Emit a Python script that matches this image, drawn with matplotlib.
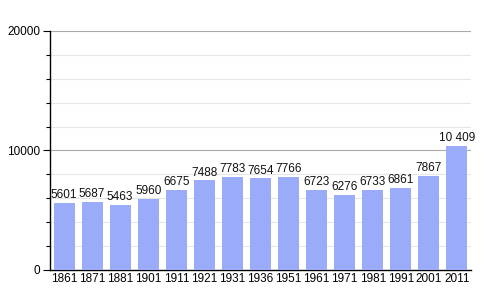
import matplotlib
matplotlib.use("Agg")
import matplotlib.pyplot as plt
import numpy as np

years = ["1861", "1871", "1881", "1901", "1911", "1921", "1931", "1936",
         "1951", "1961", "1971", "1981", "1991", "2001", "2011"]
population = [5601, 5687, 5463, 5960, 6675, 7488, 7783, 7654,
              7766, 6723, 6276, 6733, 6861, 7867, 10409]
value_labels = ["5601", "5687", "5463", "5960", "6675", "7488", "7783", "7654",
                "7766", "6723", "6276", "6733", "6861", "7867", "10 409"]

plt.rcParams['font.family'] = ['Liberation Sans', 'DejaVu Sans']

fig = plt.figure(figsize=(5, 3), dpi=100)
ax = fig.add_axes([0.1, 0.1, 0.842, 0.797])

x = np.arange(len(years))
ax.bar(x, population, width=0.75, color='#9aabfa', zorder=3)

for xi, v, lab in zip(x, population, value_labels):
    ax.text(xi, v + 150, lab, ha='center', va='bottom', fontsize=8.5, color='#111111', zorder=4)

ax.set_xlim(-0.5, len(years) - 0.5)
ax.set_ylim(0, 20000)
ax.set_yticks([0, 10000, 20000])
ax.set_yticklabels(["0", "10000", "20000"], fontsize=8.5)
ax.set_yticks(np.arange(2000, 20000, 2000), minor=True)
ax.set_xticks(x)
ax.set_xticklabels(years, fontsize=8.5)

for y in np.arange(2000, 20000, 2000):
    if y % 10000 != 0:
        ax.axhline(y, color='#e6e6e6', lw=0.8, zorder=1)
for y in [10000, 20000]:
    ax.axhline(y, color='#aaaaaa', lw=0.8, zorder=1)

ax.tick_params(axis='x', length=0, pad=2)
ax.tick_params(axis='y', which='major', length=5, width=0.8, pad=2)
ax.tick_params(axis='y', which='minor', length=3, width=0.8)

for s in ['top', 'right']:
    ax.spines[s].set_visible(False)
ax.spines['left'].set_linewidth(1.0)
ax.spines['bottom'].set_linewidth(1.0)

fig.savefig("out.png", dpi=100)
